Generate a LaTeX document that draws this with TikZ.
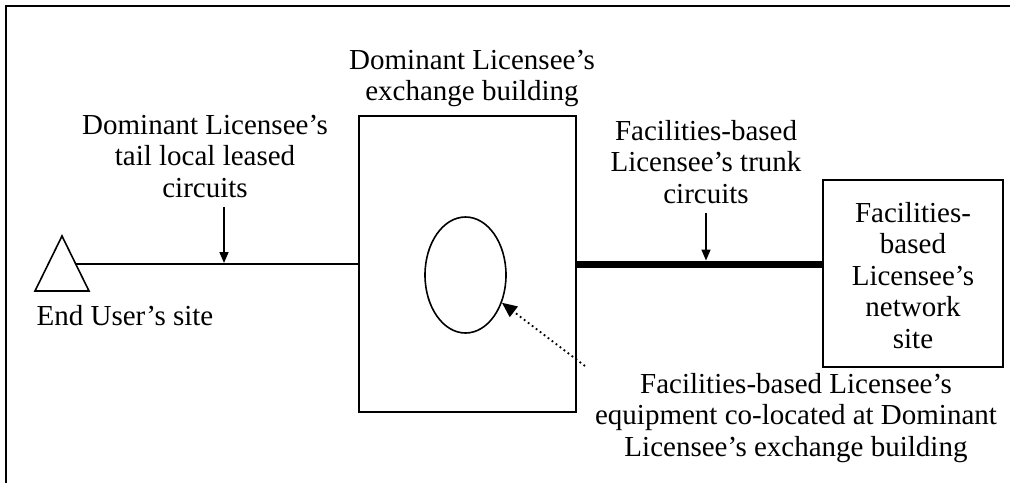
\documentclass[tikz,border=0pt]{standalone}
\usepackage{fontspec}
\setmainfont{Liberation Serif}
\usetikzlibrary{arrows.meta,shapes.geometric}

\tikzset{
  lbl/.style={inner sep=0pt, align=center, anchor=north,
    font=\fontsize{29}{31.5}\selectfont},
  bldg/.style={draw, line width=1.6pt, inner sep=0pt},
  arr/.style={line width=1.6pt, -{Triangle[length=11pt,width=9pt]}},
  dotarr/.style={line width=1.8pt, dash pattern=on 1.8pt off 3.2pt,
    -{Triangle[length=15pt,width=13pt]}}
}

\begin{document}
\begin{tikzpicture}[x=1pt,y=-1pt]

  \newcommand\LW{1.6pt};
  \newcommand\TW{7pt};
  \useasboundingbox (0,0) rectangle (1010,483);
  \draw[line width=2.4pt] (1010,6) -- (6,6) -- (6,483); %% frame

  \node[bldg, minimum width=217pt, minimum height=296pt] (exch) at (467.5,264) {};
  \node[lbl] (exchlbl) at (472,50) {Dominant Licensee’s\\exchange building};
  \node[ellipse, draw, line width=\LW, inner sep=0pt,
    minimum width=81pt, minimum height=116pt] (equip) at (465.5,275) {};

  \node[bldg, minimum width=180pt, minimum height=187pt] (net) at (913,273.5) {};
  \node[lbl] (nettxt) at (913,202) {Facilities-\\based\\Licensee’s\\network\\site};

  %% end user
  \draw[line width=\LW] (62,236) -- (89,291) -- (35,291) -- cycle;
  \coordinate (usr) at (75.5,264);
  \node[lbl] (site) at (125,305) {End User’s site};

  \draw[line width=\LW] (usr) -- (usr -| exch.west); %% tail circuit
  \draw[line width=\TW] (exch.east) -- (exch.east -| net.west); %% trunk

  \node[lbl] (tail) at (205,115) {Dominant Licensee’s\\tail local leased\\circuits};
  \coordinate (tailpt) at (224,264);
  \draw[arr, shorten <=9pt, shorten >=1pt] (tailpt |- tail.south) -- (tailpt);

  \node[lbl] (trunk) at (706,120) {Facilities-based\\Licensee’s trunk\\circuits};
  \coordinate (trunkpt) at (706,264);
  \draw[arr, shorten <=9pt, shorten >=3.5pt] (trunkpt |- trunk.south) -- (trunkpt);

  \node[lbl] (cmt) at (796,373)
    {Facilities-based Licensee’s\\equipment co-located at Dominant\\Licensee’s exchange building};
  \coordinate (dotstart) at (585,366);
  \draw[dotarr] (dotstart) -- (equip); %% points at the equipment

\end{tikzpicture}
\end{document}
